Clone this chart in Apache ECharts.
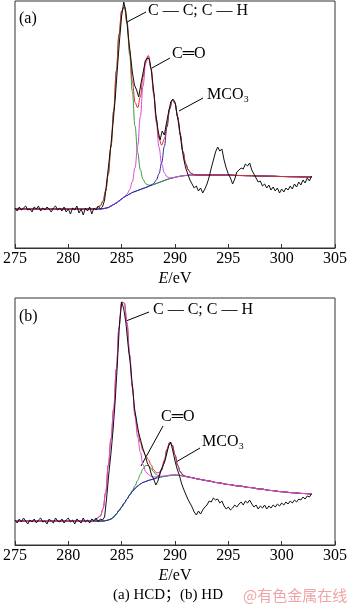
<!DOCTYPE html>
<html>
<head>
<meta charset="utf-8">
<script src="https://cdn.jsdelivr.net/npm/echarts@6/dist/echarts.min.js"></script>
<style>
  html, body { margin: 0; padding: 0; background: #fff; }
  #chart { width: 350px; height: 604px; }
</style>
</head>
<body>
<div id="chart"></div>
<script>
// raw spectra, 0.2 eV step from 275.0 eV
const rawStart = 275;
const rawStep = 0.2;
const rawA = [40,37,41,38,40,42,38,39,36,41, 39,42,37,40,38,41,39,36,40,42,
  38,40,37,41,36,39,34,40,38,42, 35,39,33,40,37,41,34,40,38,42,
  39,41,48,66,85,104,126,150,180,208, 232,246,236,214,195,176,163,158,151,164,
  175,186,190,189,176,157,134,118,108,117, 113,125,136,146,149,146,133,121,104,90,
  80,74,68,64,60,62,57,60,55,59, 64,71,80,88,96,101,97,99,88,80,
  74,70,64,69,76,78,80,79,84,82, 85,78,74,70,66,67,62,64,60,63,
  58,61,57,60,55,59,56,60,58,62, 59,64,61,66,63,68,65,70,67,72];
const rawB = [25,22,26,23,27,24,21,25,23,26, 22,25,27,23,24,21,26,24,22,27,
  24,23,26,22,25,27,23,25,21,26, 24,22,27,23,25,22,26,24,27,23,
  26,25,28,48,72,92,116,145,182,222, 243,236,222,200,182,160,137,124,112,104,
  96,90,82,78,70,66,60,64,72,78, 82,90,99,103,94,84,76,70,62,56,
  51,46,42,38,33,30,34,31,35,38, 40,44,43,47,45,46,42,44,39,36,
  38,35,37,40,38,41,43,40,44,42, 45,41,38,40,36,39,37,40,36,39,
  37,40,38,41,39,42,40,43,41,44, 42,45,43,46,45,48,46,49,48,51];

// fitted curves: energies and heights (background, and peaks above background)
const fitE = [275,277,279,281,282,282.5,283,283.25,283.5,283.75,284,284.25,284.5,284.75,285,285.25,
  285.5,285.75,286,286.25,286.5,286.75,287,287.25,287.5,287.75,288,288.25,288.5,288.75,289,289.25,
  289.5,289.75,290,290.25,290.5,290.75,291,291.25,291.5,291.75,292,292.25,292.5,293,294,295,296,297,
  298,299,300,301,302,302.8];

const bgA = [39,39,39,39,39,39,39,39.3,39.8,40.5,42,43.5,45,47,49,51,
  52.5,54,55.5,56.5,57.5,58.5,59.5,60.5,61.5,62.5,63.5,64.5,65.5,66.5,67.5,68.5,
  69.3,70,70.7,71.3,71.8,72.2,72.5,72.8,73,73,73,73,73,73,73,73,72.5,72.3,
  72,71.8,71.5,71.3,71.1,71];
const ccA = [0,0,0,0,0,0.4,3.2,7.8,17.1,33.6,59.3,93.4,131.9,166.5,188.2,190.3,
  172.2,139.4,101,65.5,38,19.7,9.2,3.8,1.4,0.5,0,0,0,0,0,0,
  0,0,0,0,0,0,0,0,0,0,0,0,0,0,0,0,0,0, 0,0,0,0,0,0];
const coA = [0,0,0,0,0,0,0,0,0,0,0,0,0,0,0,0.4,
  1.5,4.3,10.8,23.6,44.7,72.8,102.3,124,129.6,116.9,90.9,60.9,35.3,17.6,7.6,2.8,
  0.9,0.3,0,0,0,0,0,0,0,0,0,0,0,0,0,0,0,0, 0,0,0,0,0,0];
const mcA = [0,0,0,0,0,0,0,0,0,0,0,0,0,0,0,0,
  0,0,0,0,0,0,0,0,0.1,0.3,1.1,3.5,8.7,18.7,34,52.6,
  69.4,77.8,74.1,59.9,41.2,24.1,12,5.1,1.8,0.5,0,0,0,0,0,0,0,0, 0,0,0,0,0,0];

const bgB = [24,24,24,24,24,24,24,24,24.3,25,26,28,31,34.5,38,42,
  46,50,53.5,56.5,59,61,62.5,63.5,64.5,65.3,66,66.8,67.5,68,68.5,69,
  69.5,69.8,70,69.8,69.5,69,68.5,68,67.5,67,66.3,65.8,65.3,64.3,62.3,60.5,59,57.5,
  56,54.5,53.3,52.3,51.5,51];
const ccB = [0,0,0,0,0,1,5,12,28,55,80,108,145,183,205,200,
  176,140,104,72,49,32,18,10,6,3.5,2,1.5,1,0.8,0.6,0.5,
  0.4,0.3,0.3,0.2,0.2,0,0,0,0,0,0,0,0,0,0,0,0,0, 0,0,0,0,0,0];
const coB = [0,0,0,0,0,0,0,0,0,0,0,0,0,0,0,0,
  0,0.3,1,2.6,5.6,9.7,13.8,16,15,11.5,7.1,3.6,1.5,0.5,0.1,0,
  0,0,0,0,0,0,0,0,0,0,0,0,0,0,0,0,0,0, 0,0,0,0,0,0];
const mcB = [0,0,0,0,0,0,0,0,0,0,0,0,0,0,0,0,
  0,0,0,0,0,0,0,0,0,0,0,0.5,2.2,6.8,15.6,26.4,
  32.8,29.9,20,9.8,3.6,0.9,0.2,0,0,0,0,0,0,0,0,0,0,0, 0,0,0,0,0,0];

const chart = echarts.init(document.getElementById('chart'));
const serif = 'Liberation Serif';

const rawPts = (arr) => arr.map((v, i) => [rawStart + i * rawStep, v]);
const onBg = (bg, peaks) => fitE.map((e, i) => [e, peaks.reduce((s, p) => s + p[i], bg[i])]);

function line(k, data, color, z, smooth) {
  return {
    type: 'line', xAxisIndex: k, yAxisIndex: k, data: data,
    symbol: 'none', silent: true, z: z,
    smooth: smooth ? 0.4 : false, smoothMonotone: 'x',
    lineStyle: { color: color, width: 1 }
  };
}

const red = '#d8322c', green = '#3a9a3e', magenta = '#d94ad6', navy = '#2a2aa8', teal = '#1f4f8a';

const series = [
  // (a)
  line(0, onBg(bgA, []), navy, 2, true),
  line(0, onBg(bgA, [ccA]), green, 3, true),
  line(0, onBg(bgA, [coA]), magenta, 3, true),
  line(0, onBg(bgA, [mcA]), navy, 3, true),
  line(0, onBg(bgA, [ccA, coA, mcA]), red, 4, true),
  line(0, rawPts(rawA), '#111', 5, false),
  // (b)
  line(1, onBg(bgB, []), teal, 2, true),
  line(1, onBg(bgB, [coB]), green, 3, true),
  line(1, onBg(bgB, [mcB]), navy, 3, true),
  line(1, onBg(bgB, [ccB, coB, mcB]), red, 4, true),
  line(1, onBg(bgB, [ccB]), magenta, 4, true),
  line(1, rawPts(rawB), '#111', 5, false)
];

const axisX = (k) => ({
  gridIndex: k, type: 'value', min: 275, max: 305, interval: 5,
  axisLine: { show: true, lineStyle: { color: '#333', width: 1 } },
  axisTick: { inside: true, length: 4, lineStyle: { color: '#333' } },
  splitLine: { show: false },
  axisLabel: { color: '#000', fontSize: 16, fontFamily: serif, margin: 3 },
  name: '{i|E}/eV', nameLocation: 'middle', nameGap: 23,
  nameTextStyle: {
    color: '#000', fontSize: 16, fontFamily: serif,
    rich: { i: { fontStyle: 'italic', fontSize: 16, fontFamily: serif, color: '#000' } }
  }
});

const txt = (x, y, s, extra) => ({
  type: 'text', x: x, y: y, silent: true,
  style: Object.assign({ text: s, fill: '#000', font: '16px "Liberation Serif"', verticalAlign: 'middle', align: 'left' }, extra || {})
});
const seg = (x1, y1, x2, y2) => ({
  type: 'line', silent: true, shape: { x1: x1, y1: y1, x2: x2, y2: y2 },
  style: { stroke: '#000', lineWidth: 1 }
});

const option = {
  animation: false,
  backgroundColor: '#fff',
  grid: [
    { left: 12, top: 1, width: 326, height: 247, show: true, borderColor: '#333', borderWidth: 1 },
    { left: 12, top: 298, width: 326, height: 247, show: true, borderColor: '#333', borderWidth: 1 }
  ],
  xAxis: [axisX(0), axisX(1)],
  yAxis: [0, 1].map(k => ({ gridIndex: k, type: 'value', min: 0, max: 247, show: false })),
  series: series,
  graphic: [
    txt(19, 19, '(a)'),
    txt(148, 11, 'C — C; C — H'),
    seg(146, 12, 127, 22),
    txt(172, 54, 'C═O'),
    seg(170, 58, 152, 68),
    txt(207, 95, 'MCO₃'),
    seg(203, 98, 179, 111),
    txt(19, 317, '(b)'),
    txt(153, 310, 'C — C; C — H'),
    seg(149, 312, 126, 321),
    txt(161, 417, 'C═O'),
    seg(163, 426, 141, 466),
    txt(202, 442, 'MCO₃'),
    seg(200, 448, 176, 462),
    txt(168, 595, '(a) HCD；(b) HD', { align: 'center', font: '15px "Liberation Serif", "Noto Sans CJK SC"' }),
    txt(243, 595, '@有色金属在线', { fill: '#f0a4a4', font: '15px "Noto Sans CJK SC"' })
  ]
};

chart.setOption(option);
</script>
</body>
</html>
